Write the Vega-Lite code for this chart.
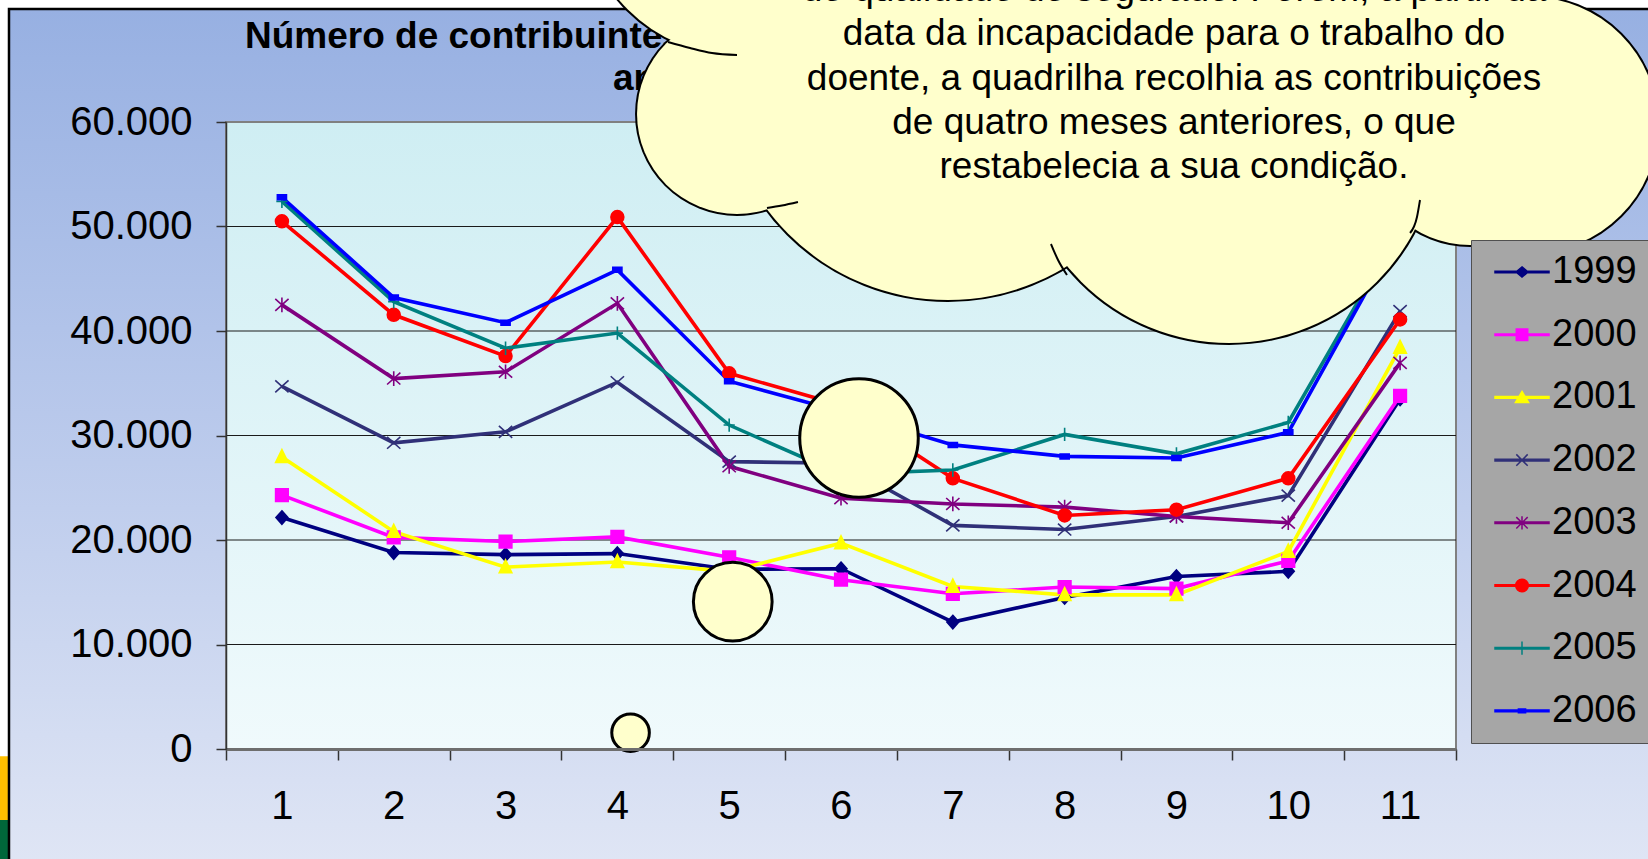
{
  "$schema": "https://vega.github.io/schema/vega-lite/v6.json",
  "width": 1230,
  "height": 627,
  "autosize": {"type": "none"},
  "padding": {"left": 226, "top": 122, "right": 192, "bottom": 110},
  "background": "#FFFFFF",
  "config": {"view": {"stroke": null}, "font": "Liberation Sans"},
  "datasets": {
    "series": [
      {"year": "1999", "x": 1, "y": 22150}, {"year": "1999", "x": 2, "y": 18800}, {"year": "1999", "x": 3, "y": 18600}, {"year": "1999", "x": 4, "y": 18700}, {"year": "1999", "x": 5, "y": 17200}, {"year": "1999", "x": 6, "y": 17250}, {"year": "1999", "x": 7, "y": 12150}, {"year": "1999", "x": 8, "y": 14500}, {"year": "1999", "x": 9, "y": 16500}, {"year": "1999", "x": 10, "y": 17000}, {"year": "1999", "x": 11, "y": 33500},
      {"year": "2000", "x": 1, "y": 24300}, {"year": "2000", "x": 2, "y": 20250}, {"year": "2000", "x": 3, "y": 19850}, {"year": "2000", "x": 4, "y": 20300}, {"year": "2000", "x": 5, "y": 18350}, {"year": "2000", "x": 6, "y": 16200}, {"year": "2000", "x": 7, "y": 14850}, {"year": "2000", "x": 8, "y": 15500}, {"year": "2000", "x": 9, "y": 15350}, {"year": "2000", "x": 10, "y": 18000}, {"year": "2000", "x": 11, "y": 33800},
      {"year": "2001", "x": 1, "y": 27950}, {"year": "2001", "x": 2, "y": 20800}, {"year": "2001", "x": 3, "y": 17400}, {"year": "2001", "x": 4, "y": 17900}, {"year": "2001", "x": 5, "y": 17000}, {"year": "2001", "x": 6, "y": 19700}, {"year": "2001", "x": 7, "y": 15550}, {"year": "2001", "x": 8, "y": 14750}, {"year": "2001", "x": 9, "y": 14750}, {"year": "2001", "x": 10, "y": 18900}, {"year": "2001", "x": 11, "y": 38400},
      {"year": "2002", "x": 1, "y": 34700}, {"year": "2002", "x": 2, "y": 29300}, {"year": "2002", "x": 3, "y": 30350}, {"year": "2002", "x": 4, "y": 35100}, {"year": "2002", "x": 5, "y": 27500}, {"year": "2002", "x": 6, "y": 27350}, {"year": "2002", "x": 7, "y": 21400}, {"year": "2002", "x": 8, "y": 21000}, {"year": "2002", "x": 9, "y": 22250}, {"year": "2002", "x": 10, "y": 24250}, {"year": "2002", "x": 11, "y": 41900},
      {"year": "2003", "x": 1, "y": 42500}, {"year": "2003", "x": 2, "y": 35450}, {"year": "2003", "x": 3, "y": 36100}, {"year": "2003", "x": 4, "y": 42650}, {"year": "2003", "x": 5, "y": 27050}, {"year": "2003", "x": 6, "y": 24000}, {"year": "2003", "x": 7, "y": 23450}, {"year": "2003", "x": 8, "y": 23150}, {"year": "2003", "x": 9, "y": 22250}, {"year": "2003", "x": 10, "y": 21650}, {"year": "2003", "x": 11, "y": 36950},
      {"year": "2004", "x": 1, "y": 50500}, {"year": "2004", "x": 2, "y": 41550}, {"year": "2004", "x": 3, "y": 37600}, {"year": "2004", "x": 4, "y": 50900}, {"year": "2004", "x": 5, "y": 35950}, {"year": "2004", "x": 6, "y": 32900}, {"year": "2004", "x": 7, "y": 25900}, {"year": "2004", "x": 8, "y": 22350}, {"year": "2004", "x": 9, "y": 22900}, {"year": "2004", "x": 10, "y": 25900}, {"year": "2004", "x": 11, "y": 41100},
      {"year": "2005", "x": 1, "y": 52400}, {"year": "2005", "x": 2, "y": 42800}, {"year": "2005", "x": 3, "y": 38350}, {"year": "2005", "x": 4, "y": 39800}, {"year": "2005", "x": 5, "y": 31000}, {"year": "2005", "x": 6, "y": 26300}, {"year": "2005", "x": 7, "y": 26700}, {"year": "2005", "x": 8, "y": 30100}, {"year": "2005", "x": 9, "y": 28250}, {"year": "2005", "x": 10, "y": 31250}, {"year": "2005", "x": 11, "y": 49800},
      {"year": "2006", "x": 1, "y": 52800}, {"year": "2006", "x": 2, "y": 43200}, {"year": "2006", "x": 3, "y": 40800}, {"year": "2006", "x": 4, "y": 45850}, {"year": "2006", "x": 5, "y": 35200}, {"year": "2006", "x": 6, "y": 32300}, {"year": "2006", "x": 7, "y": 29100}, {"year": "2006", "x": 8, "y": 28000}, {"year": "2006", "x": 9, "y": 27850}, {"year": "2006", "x": 10, "y": 30300}, {"year": "2006", "x": 11, "y": 49600}
    ],
    "cloud": [
      {"x": 5.070, "y": 81149, "r": 1.377},
      {"x": 5.070, "y": 60766, "r": 0.894},
      {"x": 6.957, "y": 64593, "r": 2.021},
      {"x": 9.470, "y": 58852, "r": 1.869},
      {"x": 11.357, "y": 77416, "r": 1.163},
      {"x": 12.162, "y": 59713, "r": 1.145},
      {"x": 11.625, "y": 58278, "r": 0.939}
    ],
    "cloudArcs": [
      {"arc": "a", "x": 4.453, "y": 67656}, {"arc": "a", "x": 4.650, "y": 67082}, {"arc": "a", "x": 4.846, "y": 66603}, {"arc": "a", "x": 5.070, "y": 66412},
      {"arc": "b", "x": 5.338, "y": 51770}, {"arc": "b", "x": 5.472, "y": 52010}, {"arc": "b", "x": 5.615, "y": 52345},
      {"arc": "c", "x": 7.878, "y": 48325}, {"arc": "c", "x": 7.941, "y": 46794}, {"arc": "c", "x": 8.021, "y": 45359},
      {"arc": "d", "x": 11.178, "y": 52536}, {"arc": "d", "x": 11.151, "y": 50909}, {"arc": "d", "x": 11.089, "y": 49378}
    ],
    "bubbles": [
      {"x": 6.161, "y": 29761, "r": 0.530},
      {"x": 5.032, "y": 14096, "r": 0.352},
      {"x": 4.118, "y": 1560, "r": 0.168}
    ],
    "cloudText": [
      {"t": "de qualidade de segurado. Porém, a partir da", "x": 8.978, "y": 71579},
      {"t": "data da incapacidade para o trabalho do", "x": 8.978, "y": 67340},
      {"t": "doente, a quadrilha recolhia as contribuições", "x": 8.978, "y": 63101},
      {"t": "de quatro meses anteriores, o que", "x": 8.978, "y": 58861},
      {"t": "restabelecia a sua condição.", "x": 8.978, "y": 54622}
    ],
    "titleText": [
      {"t": "Número de contribuintes por mês de início do benefício, por", "x": 0.67, "y": 67082},
      {"t": "anos de 1999 a 2006", "x": 3.961, "y": 63062}
    ]
  },
  "encoding": {
    "x": {
      "field": "x", "type": "quantitative",
      "scale": {"domain": [0.5, 11.5], "nice": false, "zero": false},
      "axis": {
        "title": null,
        "values": [0.5, 1.5, 2.5, 3.5, 4.5, 5.5, 6.5, 7.5, 8.5, 9.5, 10.5, 11.5],
        "labelExpr": "datum.value < 11 ? format(datum.value + 0.5, 'd') : ''",
        "labelOffset": 55.9,
        "labelFlush": false,
        "labelOverlap": false,
        "grid": false,
        "tickSize": 11,
        "tickColor": "#333333",
        "tickWidth": 1.5,
        "domainColor": "#6E6E6E",
        "domainWidth": 3,
        "labelFontSize": 40,
        "labelFont": "Liberation Sans",
        "labelColor": "#000000",
        "labelBaseline": "alphabetic",
        "labelPadding": 58,
        "zindex": 1
      }
    },
    "y": {
      "field": "y", "type": "quantitative",
      "scale": {"domain": [0, 60000], "nice": false, "zero": false},
      "axis": {
        "title": null,
        "values": [0, 10000, 20000, 30000, 40000, 50000, 60000],
        "labelExpr": "datum.value == 0 ? '0' : replace(format(datum.value, ','), ',', '.')",
        "labelFlush": false,
        "labelOverlap": false,
        "grid": false,
        "tickSize": 10,
        "tickColor": "#333333",
        "tickWidth": 1.5,
        "domainColor": "#333333",
        "domainWidth": 1.5,
        "labelFontSize": 40,
        "labelFont": "Liberation Sans",
        "labelColor": "#000000",
        "labelPadding": 24,
        "zindex": 1
      }
    }
  },
  "resolve": {"scale": {"shape": "independent", "fill": "independent", "stroke": "independent"}},
  "layer": [
    {
      "data": {"values": [{"x": -1.6, "x2": -1.4496, "y": -700, "y2": -6794}]},
      "mark": {"type": "rect", "fill": "#FFC000", "clip": false},
      "encoding": {"x2": {"field": "x2"}, "y2": {"field": "y2"}}
    },
    {
      "data": {"values": [{"x": -1.6, "x2": -1.4496, "y": -6794, "y2": -12000}]},
      "mark": {"type": "rect", "fill": "#00663A", "clip": false},
      "encoding": {"x2": {"field": "x2"}, "y2": {"field": "y2"}}
    },
    {
      "data": {"values": [{"x": -1.4407, "x2": 14.5, "y": 70813, "y2": -16000}]},
      "mark": {
        "type": "rect", "clip": false, "stroke": "#000000", "strokeWidth": 2.5,
        "fill": {"gradient": "linear", "x1": 0, "y1": 0, "x2": 0, "y2": 1,
          "stops": [{"offset": 0, "color": "#97B0E2"}, {"offset": 0.5, "color": "#BCCBEC"}, {"offset": 1, "color": "#E4E9F6"}]}
      },
      "encoding": {"x2": {"field": "x2"}, "y2": {"field": "y2"}}
    },
    {
      "data": {"values": [{"x": 0.5, "x2": 11.5, "y": 0, "y2": 60000}]},
      "mark": {
        "type": "rect", "clip": false, "stroke": "#808080", "strokeWidth": 2,
        "fill": {"gradient": "linear", "x1": 0, "y1": 0, "x2": 0, "y2": 1,
          "stops": [{"offset": 0, "color": "#CFEEF3"}, {"offset": 1, "color": "#F0FAFC"}]}
      },
      "encoding": {"x2": {"field": "x2"}, "y2": {"field": "y2"}}
    },
    {
      "data": {"values": [
        {"x": 0.5, "x2": 11.5, "y": 10000}, {"x": 0.5, "x2": 11.5, "y": 20000},
        {"x": 0.5, "x2": 11.5, "y": 30000}, {"x": 0.5, "x2": 11.5, "y": 40000},
        {"x": 0.5, "x2": 11.5, "y": 50000}]},
      "mark": {"type": "rule", "color": "#1A1A1A", "strokeWidth": 1.2},
      "encoding": {"x2": {"field": "x2"}}
    },
    {
      "data": {"name": "titleText"},
      "mark": {"type": "text", "clip": false, "align": "left", "baseline": "alphabetic", "font": "Liberation Sans", "fontWeight": "bold", "fontSize": 37, "color": "#000000"},
      "encoding": {"text": {"field": "t"}}
    },
    {
      "data": {"name": "series"},
      "mark": {"type": "line", "strokeWidth": 3.6, "clip": false},
      "encoding": {
        "color": {"field": "year", "type": "nominal",
          "scale": {"domain": ["1999", "2000", "2001", "2002", "2003", "2004", "2005", "2006"],
            "range": ["#000080", "#FF00FF", "#FFFF00", "#303078", "#800080", "#FF0000", "#008080", "#0000FF"]},
          "legend": null}
      }
    },
    {
      "data": {"name": "series"},
      "mark": {"type": "point", "filled": true, "size": 196, "strokeWidth": 1.6, "opacity": 1, "clip": false},
      "encoding": {
        "fill": {"field": "year", "type": "nominal",
          "scale": {"domain": ["1999", "2000", "2001", "2002", "2003", "2004", "2005", "2006"],
            "range": ["#000080", "#FF00FF", "#FFFF00", "#303078", "#800080", "#FF0000", "#008080", "#0000FF"]},
          "legend": null},
        "stroke": {"field": "year", "type": "nominal",
          "scale": {"domain": ["1999", "2000", "2001", "2002", "2003", "2004", "2005", "2006"],
            "range": ["#000080", "#FF00FF", "#FFFF00", "#303078", "#800080", "#FF0000", "#008080", "#0000FF"]},
          "legend": null},
        "shape": {"field": "year", "type": "nominal",
          "scale": {"domain": ["1999", "2000", "2001", "2002", "2003", "2004", "2005", "2006"],
            "range": [
              "M0,-0.95L0.85,0L0,0.95L-0.85,0Z",
              "M-0.9,-0.9H0.9V0.9H-0.9Z",
              "M0,-1.05L0.9,0.8L-0.9,0.8Z",
              "M-0.95,-0.85L0.95,0.85M-0.95,0.85L0.95,-0.85",
              "M-0.95,-0.85L0.95,0.85M-0.95,0.85L0.95,-0.85M0,-1.05L0,1.05",
              "M0.92,0A0.92,0.92,0,1,1,-0.92,0A0.92,0.92,0,1,1,0.92,0Z",
              "M0,-0.95L0,0.95M-0.8,0L0.8,0",
              "M-0.65,-0.35H0.65V0.35H-0.65Z"]},
          "legend": null}
      }
    },
    {
      "data": {"name": "series"},
      "transform": [{"filter": "false"}],
      "mark": {"type": "point", "filled": true, "opacity": 1, "strokeWidth": 1.5},
      "encoding": {
        "fill": {"field": "year", "type": "nominal",
          "scale": {"domain": ["1999", "2000", "2001", "2002", "2003", "2004", "2005", "2006"],
            "range": ["#000080", "#FF00FF", "#FFFF00", "#303078", "#800080", "#FF0000", "#008080", "#0000FF"]},
          "legend": {
            "orient": "none", "legendX": 1245, "legendY": 118, "direction": "vertical",
            "title": null, "fillColor": "#A6A6A6", "strokeColor": "#505050",
            "padding": 13, "rowPadding": 24.7, "symbolSize": 144, "symbolStrokeWidth": 1.5, "symbolOpacity": 1,
            "symbolOffset": 19, "labelOffset": 11, "labelFontSize": 38,
            "labelFont": "Liberation Sans", "labelColor": "#000000"
          }},
        "stroke": {"field": "year", "type": "nominal",
          "scale": {"domain": ["1999", "2000", "2001", "2002", "2003", "2004", "2005", "2006"],
            "range": ["#000080", "#FF00FF", "#FFFF00", "#303078", "#800080", "#FF0000", "#008080", "#0000FF"]},
          "legend": {
            "orient": "none", "legendX": 1245, "legendY": 118, "direction": "vertical",
            "title": null, "fillColor": "#A6A6A6", "strokeColor": "#505050",
            "padding": 13, "rowPadding": 24.7, "symbolSize": 144, "symbolStrokeWidth": 1.5, "symbolOpacity": 1,
            "symbolOffset": 19, "labelOffset": 11, "labelFontSize": 38,
            "labelFont": "Liberation Sans", "labelColor": "#000000"
          }},
        "shape": {"field": "year", "type": "nominal",
          "scale": {"domain": ["1999", "2000", "2001", "2002", "2003", "2004", "2005", "2006"],
            "range": [
              "M-4.5,-0.13H4.5V0.13H-4.5ZM0,-0.85L1,0L0,0.85L-1,0Z",
              "M-4.5,-0.13H4.5V0.13H-4.5ZM-0.95,-0.95H0.95V0.95H-0.95Z",
              "M-4.5,-0.13H4.5V0.13H-4.5ZM0,-1L1.1,0.85L-1.1,0.85Z",
              "M-4.5,-0.13H4.5V0.13H-4.5ZM-0.95,-0.95L0.95,0.95M-0.95,0.95L0.95,-0.95",
              "M-4.5,-0.13H4.5V0.13H-4.5ZM-0.95,-0.95L0.95,0.95M-0.95,0.95L0.95,-0.95M0,-1.1L0,1.1",
              "M-4.5,-0.13H4.5V0.13H-4.5ZM1.05,0A1.05,1.05,0,1,1,-1.05,0A1.05,1.05,0,1,1,1.05,0Z",
              "M-4.5,-0.13H4.5V0.13H-4.5ZM0,-1.1L0,1.1",
              "M-4.5,-0.13H4.5V0.13H-4.5ZM-0.6,-0.3H0.6V0.3H-0.6Z"]},
          "legend": {
            "orient": "none", "legendX": 1245, "legendY": 118, "direction": "vertical",
            "title": null, "fillColor": "#A6A6A6", "strokeColor": "#505050",
            "padding": 13, "rowPadding": 24.7, "symbolSize": 144, "symbolStrokeWidth": 1.5, "symbolOpacity": 1,
            "symbolOffset": 19, "labelOffset": 11, "labelFontSize": 38,
            "labelFont": "Liberation Sans", "labelColor": "#000000"
          }
        }
      }
    },
    {
      "data": {"name": "cloud"},
      "mark": {"type": "point", "shape": "circle", "filled": true, "fill": "#FFFFCC", "stroke": "#000000", "strokeWidth": 4, "opacity": 1, "clip": false},
      "encoding": {"size": {"field": "r", "type": "quantitative", "scale": {"type": "pow", "exponent": 2, "domain": [0, 1], "range": [0, 50013]}, "legend": null}}
    },
    {
      "data": {"name": "cloud"},
      "mark": {"type": "point", "shape": "circle", "filled": true, "fill": "#FFFFCC", "strokeWidth": 0, "opacity": 1, "clip": false},
      "encoding": {"size": {"field": "r", "type": "quantitative", "scale": {"type": "pow", "exponent": 2, "domain": [0, 1], "range": [0, 50013]}, "legend": null}}
    },
    {
      "data": {"name": "cloudArcs"},
      "mark": {"type": "line", "color": "#000000", "strokeWidth": 2, "interpolate": "monotone", "clip": false},
      "encoding": {"detail": {"field": "arc", "type": "nominal"}}
    },
    {
      "data": {"name": "bubbles"},
      "mark": {"type": "point", "shape": "circle", "filled": true, "fill": "#FFFFCC", "stroke": "#000000", "strokeWidth": 3, "opacity": 1, "clip": false},
      "encoding": {"size": {"field": "r", "type": "quantitative", "scale": {"type": "pow", "exponent": 2, "domain": [0, 1], "range": [0, 50013]}, "legend": null}}
    },
    {
      "data": {"name": "cloudText"},
      "mark": {"type": "text", "clip": false, "align": "center", "baseline": "alphabetic", "font": "Liberation Sans", "fontSize": 37, "color": "#000000"},
      "encoding": {"text": {"field": "t"}}
    }
  ]
}
